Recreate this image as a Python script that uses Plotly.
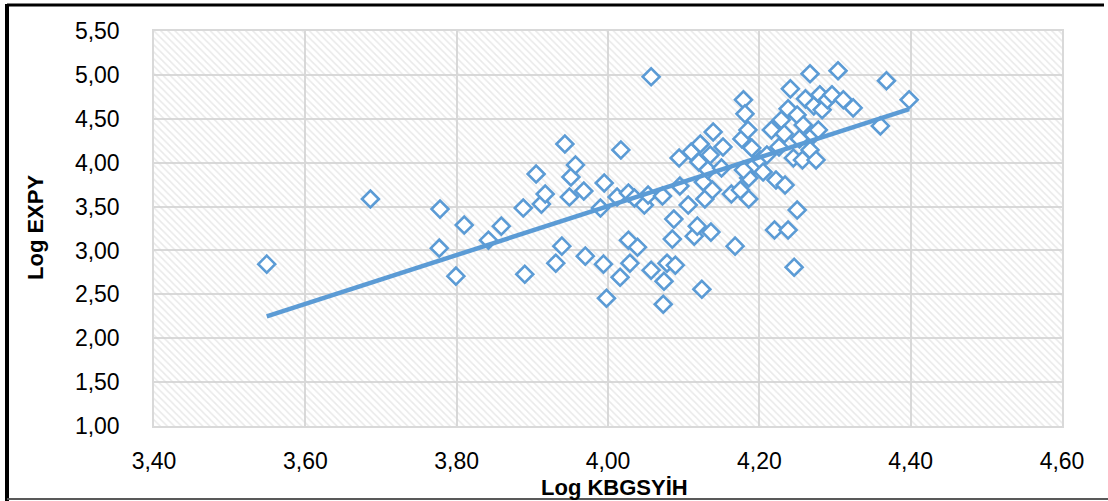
import numpy as np
import plotly.graph_objects as go

# ---- data ----
log_kbgsyih = [
    3.549, 3.686, 3.778, 3.777, 3.799, 3.810, 3.842, 3.859, 3.888, 3.890,
    3.905, 3.912, 3.917, 3.931, 3.939, 3.943, 3.949, 3.951, 3.957, 3.970,
    3.968, 3.990, 3.995, 3.994, 3.998, 4.012, 4.016, 4.017, 4.027, 4.027,
    4.029, 4.035, 4.039, 4.048, 4.053, 4.057, 4.057, 4.072, 4.074, 4.073,
    4.078, 4.085, 4.087, 4.089, 4.094, 4.095, 4.106, 4.110, 4.114, 4.118,
    4.122, 4.120, 4.124, 4.126, 4.128, 4.132, 4.135, 4.136, 4.138, 4.139,
    4.150, 4.152, 4.163, 4.168, 4.175, 4.177, 4.179, 4.181, 4.185, 4.186,
    4.186, 4.190, 4.194, 4.201, 4.205, 4.210, 4.216, 4.220, 4.222, 4.226,
    4.229, 4.233, 4.234, 4.238, 4.238, 4.241, 4.245, 4.246, 4.250, 4.250,
    4.253, 4.257, 4.258, 4.261, 4.267, 4.267, 4.271, 4.272, 4.275, 4.278,
    4.280, 4.283, 4.290, 4.296, 4.304, 4.311, 4.324, 4.360, 4.368, 4.398,
    4.179,
]
log_expy = [
    2.844, 3.586, 3.471, 3.026, 2.707, 3.289, 3.117, 3.277, 3.483, 2.729,
    3.871, 3.528, 3.643, 2.855, 3.049, 4.213, 3.608, 3.837, 3.974, 2.935,
    3.677, 3.483, 3.768, 2.844, 2.455, 3.608, 2.695, 4.145, 3.654, 3.117,
    2.855, 3.597, 3.037, 3.517, 3.631, 4.978, 2.775, 3.620, 2.649, 2.387,
    2.855, 3.129, 3.357, 2.832, 4.054, 3.734, 3.517, 4.122, 3.163, 3.277,
    4.213, 4.008, 2.558, 3.780, 3.586, 3.917, 4.088, 3.209, 3.688, 4.350,
    3.939, 4.179, 3.643, 3.049, 3.688, 4.271, 4.716, 4.556, 4.373, 3.825,
    3.586, 4.168, 3.974, 4.031, 3.894, 4.088, 4.373, 3.232, 3.802, 4.179,
    4.487, 4.328, 3.745, 3.232, 4.613, 4.841, 4.054, 2.809, 3.460, 4.544,
    4.271, 4.031, 4.430, 4.727, 5.013, 4.145, 4.316, 4.647, 4.031, 4.373,
    4.773, 4.602, 4.716, 4.773, 5.047, 4.716, 4.624, 4.419, 4.933, 4.716,
    3.917,
]
# linear trendline end points
trend_x = [3.549, 4.398]
trend_y = [2.25, 4.61]

x_range = [3.40, 4.60]
y_range = [1.00, 5.50]
x_tick_step = 0.2
y_tick_step = 0.5
x_title = "Log KBGSYİH"
y_title = "Log EXPY"

BLUE = "#5B9BD5"
GRID = "#D9D9D9"
FONT = "Liberation Sans"

W, H = 1108, 501
ML, MR, MT, MB = 154, 46, 31, 75
pw, ph = W - ML - MR, H - MT - MB


def px_x(px):
    return (px - ML) / pw


def px_y(py):
    return (H - MB - py) / ph


fig = go.Figure()

# hatched plot-area background
fig.add_trace(go.Scatter(
    x=[x_range[0], x_range[1], x_range[1], x_range[0], x_range[0]],
    y=[y_range[0], y_range[0], y_range[1], y_range[1], y_range[0]],
    mode="lines", line=dict(width=0), fill="toself",
    fillcolor="rgba(0,0,0,0)",
    fillpattern=dict(shape="\\", fgcolor="#D3D3D3", bgcolor="rgba(255,255,255,0)",
                     size=5, solidity=0.3),
    hoverinfo="skip", showlegend=False,
))

fig.add_trace(go.Scatter(
    x=log_kbgsyih, y=log_expy, mode="markers",
    marker=dict(symbol="diamond", size=13, color="white",
                line=dict(color=BLUE, width=2.6)),
    showlegend=False,
))

fig.add_trace(go.Scatter(
    x=trend_x, y=trend_y, mode="lines",
    line=dict(color=BLUE, width=4.5),
    showlegend=False,
))

axis_common = dict(
    showgrid=True, gridcolor=GRID, gridwidth=1.5, automargin=False,
    zeroline=False, showline=True, linecolor=GRID, linewidth=1.5, mirror=True,
    tickfont=dict(family=FONT, size=23, color="black"),
    tickformat=".2f", ticks="",
)

fig.update_layout(
    width=W, height=H, autosize=False,
    margin=dict(l=ML, r=MR, t=MT, b=MB, pad=0, autoexpand=False),
    paper_bgcolor="white", plot_bgcolor="white",
    separators=",.",
    xaxis=dict(range=x_range, dtick=x_tick_step, tick0=x_range[0],
               ticklabelstandoff=14, **axis_common),
    yaxis=dict(range=y_range, dtick=y_tick_step, tick0=y_range[0],
               ticklabelstandoff=28, **axis_common),
    annotations=[
        dict(text="<b>" + x_title + "</b>", xref="paper", yref="paper",
             x=px_x(614), y=px_y(487), xanchor="center", yanchor="middle",
             showarrow=False, font=dict(family=FONT, size=22, color="black")),
        dict(text="<b>" + y_title + "</b>", xref="paper", yref="paper",
             x=px_x(35), y=px_y(228), xanchor="center", yanchor="middle",
             textangle=-90,
             showarrow=False, font=dict(family=FONT, size=22, color="black")),
    ],
    shapes=[
        dict(type="line", xref="paper", yref="paper",
             x0=px_x(7), x1=px_x(1104), y0=px_y(5), y1=px_y(5),
             line=dict(color="black", width=3)),
        dict(type="line", xref="paper", yref="paper",
             x0=px_x(7), x1=px_x(7), y0=px_y(4), y1=px_y(501),
             line=dict(color="black", width=4)),
        dict(type="line", xref="paper", yref="paper",
             x0=px_x(7), x1=px_x(1108), y0=px_y(499), y1=px_y(499),
             line=dict(color="#595959", width=2)),
    ],
)

fig.write_html(
    "out.html",
    config={"displayModeBar": False},
    post_script="document.body.style.margin='0';document.body.style.padding='0';",
)
